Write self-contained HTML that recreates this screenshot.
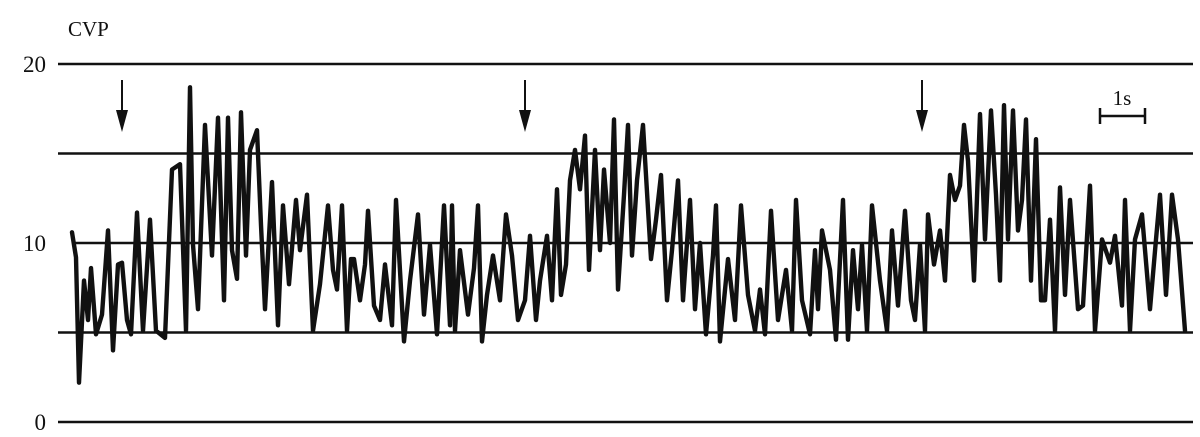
<!DOCTYPE html>
<html><head><meta charset="utf-8"><style>
html,body{margin:0;padding:0;background:#fff;}
svg{display:block;}
text{font-family:"Liberation Serif",serif;fill:#111;}
</style></head><body>
<svg id="chart" width="1200" height="437" viewBox="0 0 1200 437">
<text x="68" y="36" font-size="21">CVP</text>
<g id="grid"></g>
<g id="ticks"></g>
<g id="arrows"></g>
<g>
<line x1="1100" y1="116" x2="1145" y2="116" stroke="#111" stroke-width="2.5"/>
<line x1="1100" y1="108" x2="1100" y2="124" stroke="#111" stroke-width="2.5"/>
<line x1="1145" y1="108" x2="1145" y2="124" stroke="#111" stroke-width="2.5"/>
<text x="1122" y="105" font-size="21" text-anchor="middle">1s</text>
</g>
<path id="trace" fill="none" stroke="#111" stroke-width="4.4" stroke-linejoin="round" stroke-linecap="round"/>
</svg>
<script>
const gridLevels=[0,5,10,15,20];
const tickLabels=["0","10","20"];
const tickValues=[0,10,20];
const arrowTimes=[50,453,850];
const times=[0,4,7,12,16,19,24,30,36,41,46,50,55,59,65,71,78,84,93,100,108,114,118,121,126,133,140,146,152,156,160,165,169,174,178,185,189,193,200,206,211,217,224,228,235,241,248,256,261,265,270,275,279,282,288,293,296,302,308,313,320,324,332,338,346,352,358,365,372,378,380,383,388,396,402,406,410,415,421,428,434,440,446,453,458,464,468,475,480,485,489,494,498,503,508,513,517,523,528,532,538,542,546,552,556,560,565,571,579,584,589,595,600,606,611,618,623,628,634,641,644,648,656,663,669,676,683,688,693,699,706,714,720,724,730,738,743,746,750,758,764,771,776,781,786,790,795,800,808,815,820,826,833,839,843,848,853,856,862,868,873,878,883,888,892,896,902,908,913,919,924,928,932,936,941,946,950,954,959,964,969,973,978,983,988,993,998,1006,1011,1018,1023,1030,1038,1043,1050,1053,1058,1063,1070,1078,1084,1088,1094,1100,1106,1113,1118];
const cvp=[10.6,9.2,2.2,7.9,5.7,8.6,4.9,6.0,10.7,4.0,8.8,8.9,5.7,4.9,11.7,5.1,11.3,5.1,4.7,14.1,14.4,5.1,18.7,9.9,6.3,16.6,9.3,17.0,6.8,17.0,9.6,8.0,17.3,9.3,15.2,16.3,11.0,6.3,13.4,5.4,12.1,7.7,12.4,9.6,12.7,5.1,7.7,12.1,8.5,7.4,12.1,5.1,9.1,9.1,6.8,8.8,11.8,6.5,5.7,8.8,5.4,12.4,4.5,7.9,11.6,6.0,9.9,4.9,12.1,5.4,12.1,5.1,9.6,6.0,8.6,12.1,4.5,7.1,9.3,6.8,11.6,9.3,5.7,6.8,10.4,5.7,7.9,10.4,6.8,13.0,7.1,8.8,13.5,15.2,13.0,16.0,8.5,15.2,9.6,14.1,10.0,16.9,7.4,12.7,16.6,9.3,13.5,16.6,9.1,11.3,13.8,6.8,9.6,13.5,6.8,12.4,6.3,10.0,4.9,9.3,12.1,4.5,9.1,5.7,12.1,7.1,5.1,7.4,4.9,11.8,5.7,8.5,5.1,12.4,6.8,4.9,9.6,6.3,10.7,8.5,4.6,12.4,4.6,9.6,6.3,9.9,5.1,12.1,7.9,5.1,10.7,6.5,11.8,6.8,5.7,9.9,5.1,11.6,8.8,10.7,7.9,13.8,12.4,13.2,16.6,14.6,7.9,17.2,10.2,17.4,12.7,7.9,17.7,10.2,17.4,10.7,12.4,16.9,7.9,15.8,6.8,6.8,11.3,5.1,13.1,7.1,12.4,6.3,6.5,13.2,5.1,10.2,8.9,10.4,6.5,12.4,5.1,10.2,11.6,6.3,10.2,12.7,7.1,12.7,10.2,5.1];
const xScale=t=>72+t;
const yScale=v=>422-v*17.9;
const NS="http://www.w3.org/2000/svg";
const grid=document.getElementById('grid');
gridLevels.forEach(v=>{
  const l=document.createElementNS(NS,'line');
  l.setAttribute('x1',v===10?75:58);l.setAttribute('x2',1193);
  l.setAttribute('y1',yScale(v));l.setAttribute('y2',yScale(v));
  l.setAttribute('stroke','#111');l.setAttribute('stroke-width','2.6');
  
  
  grid.appendChild(l);
});
const ticks=document.getElementById('ticks');
tickValues.forEach((v,i)=>{
  const t=document.createElementNS(NS,'text');
  t.setAttribute('x',46);t.setAttribute('y',yScale(v)+8);
  t.setAttribute('text-anchor','end');t.setAttribute('font-size','23');
  t.textContent=tickLabels[i];
  
  
  ticks.appendChild(t);
});
const arrows=document.getElementById('arrows');
arrowTimes.forEach((a,i)=>{
  const x=xScale(a);
  const g=document.createElementNS(NS,'g');
  
  
  const l=document.createElementNS(NS,'line');
  l.setAttribute('x1',x);l.setAttribute('x2',x);l.setAttribute('y1',80);l.setAttribute('y2',118);
  l.setAttribute('stroke','#111');l.setAttribute('stroke-width','2');
  const p=document.createElementNS(NS,'polygon');
  p.setAttribute('points',`${x-6},110 ${x+6},110 ${x},132`);
  p.setAttribute('fill','#111');
  g.appendChild(l);g.appendChild(p);arrows.appendChild(g);
});
let d='';
times.forEach((t,i)=>{d+=(i?'L':'M')+xScale(t).toFixed(1)+','+yScale(cvp[i]).toFixed(1);});
document.getElementById('trace').setAttribute('d',d);
</script>
</body></html>
